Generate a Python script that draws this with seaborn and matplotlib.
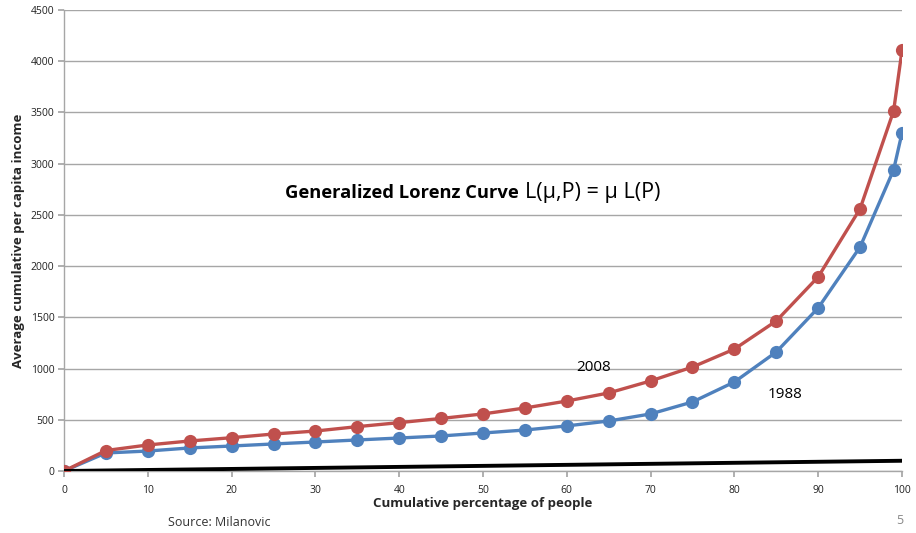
import matplotlib
matplotlib.use("Agg")
import matplotlib.pyplot as plt
import seaborn as sns
import pandas as pd

pct = [0, 5, 10, 15, 20, 25, 30, 35, 40, 45, 50, 55, 60, 65, 70, 75, 80, 85, 90, 95, 99, 100]
income_2008 = [0, 200, 254, 293, 325, 361, 390, 433, 472, 513, 557, 615, 683, 762, 879, 1015, 1190, 1465, 1895, 2560, 3515, 4105]
income_1988 = [0, 176, 195, 225, 244, 264, 283, 303, 322, 342, 371, 400, 440, 488, 557, 674, 869, 1162, 1592, 2187, 2940, 3300]
equality_x = [0, 100]
equality_y = [0, 100]
yticks = list(range(0, 4501, 500))
xticks = list(range(0, 101, 10))

sns.set_theme(style="white")
plt.rcParams['font.family'] = ['Open Sans', 'DejaVu Sans']

fig = plt.figure(figsize=(9.16, 5.33), dpi=100)
ax = fig.add_axes([64/916, 62/533, (902-64)/916, (471-10)/533])

df = pd.DataFrame({"pct": pct, "y2008": income_2008, "y1988": income_1988})
red = "#C0504D"
blue = "#4F81BD"
sns.lineplot(data=df, x="pct", y="y1988", ax=ax, color=blue, lw=2.4, marker="o",
             markersize=9.5, markeredgewidth=0, zorder=3)
sns.lineplot(data=df, x="pct", y="y2008", ax=ax, color=red, lw=2.4, marker="o",
             markersize=9.5, markeredgewidth=0, zorder=4)
sns.lineplot(x=equality_x, y=equality_y, ax=ax, color="black", lw=2.8, zorder=5)

ax.set_xlim(0, 100)
ax.set_ylim(0, 4500)
ax.set_xticks(xticks)
ax.set_yticks(yticks)
ax.yaxis.grid(True, color="#A6A6A6", lw=1)
ax.xaxis.grid(False)
ax.set_axisbelow(True)
for s in ["top", "right"]:
    ax.spines[s].set_visible(False)
for s in ["left", "bottom"]:
    ax.spines[s].set_color("#A6A6A6")
    ax.spines[s].set_linewidth(1)
ax.tick_params(axis="both", which="both", length=4, color="#A6A6A6", labelsize=7.5,
               labelcolor="#222222", direction="out", left=True, bottom=True, pad=3)
ax.tick_params(axis="x", pad=6)

ax.set_xlabel("Cumulative percentage of people", fontsize=9.5, fontweight="bold", labelpad=1)
ax.set_ylabel("Average cumulative per capita income", fontsize=9.5, fontweight="bold", labelpad=4)

t1 = ax.text(26.4, 2715, "Generalized Lorenz Curve", fontsize=13.2, fontweight="bold",
             va="center", ha="left", color="black")
fig.canvas.draw()
bb = t1.get_window_extent()
ax.annotate("L(\u03bc,P) = \u03bc L(P)", xy=(bb.x1 + 6, (bb.y0 + bb.y1) / 2), xycoords="figure pixels",
            fontsize=15.5, va="center", ha="left", color="black")

ax.text(63.2, 1010, "2008", fontsize=11, ha="center", va="center", color="black")
ax.text(86.0, 745, "1988", fontsize=11, ha="center", va="center", color="black")

fig.text(168/916, 1 - 522/533, "Source: Milanovic", fontsize=9, ha="left", va="center", color="#333333")
fig.text(900/916, 1 - 520/533, "5", fontsize=9, ha="center", va="center", color="#888888")

fig.savefig("out.png", dpi=100)
